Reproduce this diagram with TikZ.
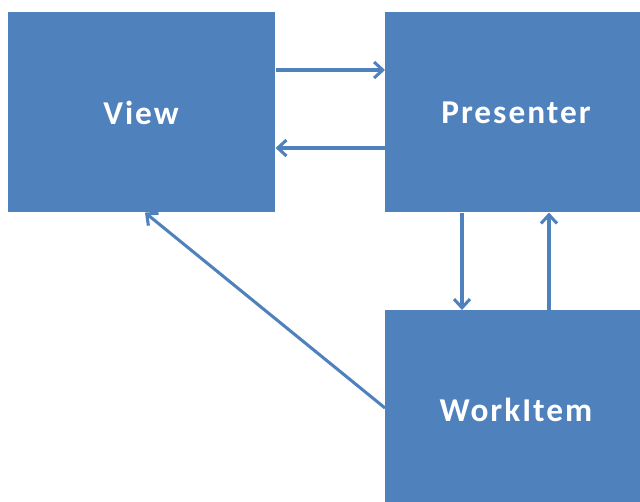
\documentclass[tikz,border=0pt]{standalone}
\usepackage{fontspec}
\setmainfont{Carlito}[LetterSpace=6]
\usetikzlibrary{arrows.meta,calc}
\definecolor{boxblue}{HTML}{4F81BD}
\tikzset{
  blockbox/.style={fill=boxblue, draw=none, inner sep=0pt, anchor=north west},
  lbl/.style={text=white, font=\fontsize{25}{28}\selectfont\bfseries, inner sep=0pt},
  arr/.style={draw=boxblue, line width=2.3pt, -{Straight Barb[length=6.5pt,width=12pt,line width=2.3pt]}}
}
\begin{document}
\begin{tikzpicture}[x=0.75pt,y=-0.75pt]
\useasboundingbox (0,0) rectangle (640,501);
\clip (0,0) rectangle (640,501);
\node[blockbox, minimum width=267*0.75pt, minimum height=200*0.75pt] (view) at (8,12) {};
\node[blockbox, minimum width=263*0.75pt, minimum height=200*0.75pt] (presenter) at (385,12) {};
\node[blockbox, minimum width=263*0.75pt, minimum height=200*0.75pt] (workitem) at (385,310) {};
\node[lbl] (viewtxt) at (141,113) {View};
\node[lbl] (prestxt) at (516,113) {Presenter};
\node[lbl] (worktxt) at (516,410) {WorkItem};
\coordinate (vr1) at (view.north east |- 0,70);
\coordinate (pl1) at (presenter.north west |- 0,70);
\coordinate (vr2) at (view.north east |- 0,148);
\coordinate (pl2) at (presenter.north west |- 0,148);
\coordinate (pb1) at (presenter.south west -| 462,0);
\coordinate (wt1) at (workitem.north west -| 462,0);
\coordinate (pb2) at (presenter.south west -| 549,0);
\coordinate (wt2) at (workitem.north west -| 549,0);
\coordinate (wl) at (workitem.north west |- 0,408);
\coordinate (vb) at (view.south west -| 145,0);
\draw[arr] (vr1) -- (pl1);
\draw[arr] (pl2) -- (vr2);
\draw[arr] (pb1) -- (wt1);
\draw[arr] (wt2) -- (pb2);
\draw[arr] (wl) -- (vb);
\end{tikzpicture}
\end{document}
